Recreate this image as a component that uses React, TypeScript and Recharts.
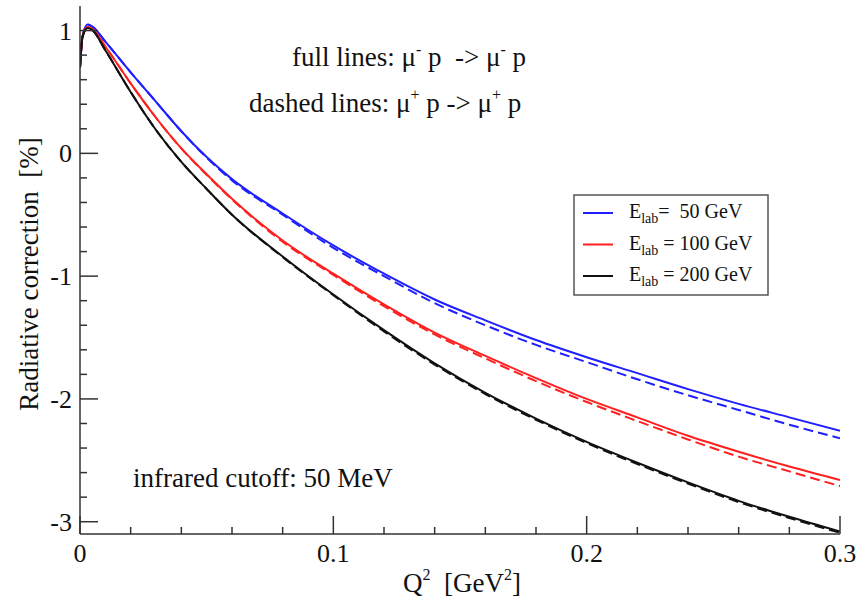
import { Customized, Line, LineChart, XAxis, YAxis } from 'recharts'

// Q^2 sample points [GeV^2]
const q2 = [0, 0.001, 0.003, 0.005, 0.01, 0.02, 0.03, 0.04, 0.05, 0.06, 0.08, 0.1, 0.12, 0.14, 0.16, 0.18, 0.2, 0.22, 0.24, 0.26, 0.28, 0.3]

// radiative correction [%], full = mu- p, dashed = mu+ p
const e50Full = [0.7, 0.95, 1.05, 1.03, 0.91, 0.66, 0.42, 0.18, -0.03, -0.21, -0.49, -0.75, -0.98, -1.19, -1.36, -1.52, -1.66, -1.79, -1.92, -2.04, -2.15, -2.26]
const e50Dash = [0.7, 0.95, 1.05, 1.03, 0.91, 0.66, 0.42, 0.18, -0.035, -0.22, -0.5, -0.77, -1.0, -1.22, -1.4, -1.56, -1.7, -1.84, -1.97, -2.09, -2.21, -2.32]
const e100Full = [0.7, 0.95, 1.03, 1.01, 0.87, 0.57, 0.29, 0.04, -0.17, -0.37, -0.71, -0.98, -1.23, -1.46, -1.65, -1.83, -2.0, -2.15, -2.3, -2.43, -2.55, -2.66]
const e100Dash = [0.7, 0.95, 1.03, 1.01, 0.87, 0.57, 0.29, 0.04, -0.175, -0.375, -0.72, -0.99, -1.245, -1.475, -1.67, -1.855, -2.025, -2.18, -2.33, -2.47, -2.59, -2.71]
const e200Full = [0.7, 0.95, 1.02, 1.0, 0.84, 0.5, 0.19, -0.07, -0.29, -0.5, -0.84, -1.15, -1.44, -1.71, -1.95, -2.16, -2.35, -2.52, -2.68, -2.83, -2.96, -3.08]
const e200Dash = [0.7, 0.95, 1.02, 1.0, 0.84, 0.5, 0.19, -0.07, -0.29, -0.5, -0.845, -1.155, -1.45, -1.72, -1.96, -2.17, -2.36, -2.53, -2.69, -2.84, -2.97, -3.09]

const xTicks = [0, 0.02, 0.04, 0.06, 0.08, 0.1, 0.12, 0.14, 0.16, 0.18, 0.2, 0.22, 0.24, 0.26, 0.28, 0.3]
const xMajor = [0, 0.1, 0.2, 0.3]
const yTicks = [-3, -2.8, -2.6, -2.4, -2.2, -2, -1.8, -1.6, -1.4, -1.2, -1, -0.8, -0.6, -0.4, -0.2, 0, 0.2, 0.4, 0.6, 0.8, 1]
const yMajor = [-3, -2, -1, 0, 1]

const legendRows = [
  { energy: '=  50 GeV', color: '#1f1fff' },
  { energy: ' = 100 GeV', color: '#ff1f1f' },
  { energy: ' = 200 GeV', color: '#111111' },
]

const data = q2.map((q, i) => ({
  q,
  e50: e50Full[i],
  e50d: e50Dash[i],
  e100: e100Full[i],
  e100d: e100Dash[i],
  e200: e200Full[i],
  e200d: e200Dash[i],
}))

const FONT = '"Liberation Serif", "Times New Roman", serif'
const INK = '#333'
const MAJOR = 18
const MINOR = 7

const isMajor = (v: number, majors: number[]) => majors.some((m) => Math.abs(m - v) < 1e-6)

function BottomTick({ x, y, payload }: any) {
  const major = isMajor(payload.value, xMajor)
  return (
    <g>
      <line x1={x} y1={y} x2={x} y2={y - (major ? MAJOR : MINOR)} stroke={INK} strokeWidth={1.5} />
      {major && (
        <text x={x} y={y + 28} textAnchor="middle" fontFamily={FONT} fontSize={26} fill="#111">
          {String(payload.value)}
        </text>
      )}
    </g>
  )
}

function TopTick({ x, y, payload }: any) {
  const major = isMajor(payload.value, xMajor)
  return <line x1={x} y1={y} x2={x} y2={y + (major ? MAJOR : MINOR)} stroke={INK} strokeWidth={1.5} />
}

function LeftTick({ x, y, payload }: any) {
  const major = isMajor(payload.value, yMajor)
  return (
    <g>
      <line x1={x} y1={y} x2={x + (major ? MAJOR : MINOR)} y2={y} stroke={INK} strokeWidth={1.5} />
      {major && (
        <text x={x - 8} y={y + 9} textAnchor="end" fontFamily={FONT} fontSize={26} fill="#111">
          {String(payload.value)}
        </text>
      )}
    </g>
  )
}

function RightTick({ x, y, payload }: any) {
  const major = isMajor(payload.value, yMajor)
  return <line x1={x} y1={y} x2={x - (major ? MAJOR : MINOR)} y2={y} stroke={INK} strokeWidth={1.5} />
}

function Overlay() {
  const pre = { whiteSpace: 'pre' as const }
  return (
    <g fontFamily={FONT} fill="#111">
      <text x={292} y={66} fontSize={27} style={pre}>
        <tspan>full lines: μ</tspan>
        <tspan dy={-11} fontSize={16}>-</tspan>
        <tspan dy={11}>{' p  -> μ'}</tspan>
        <tspan dy={-11} fontSize={16}>-</tspan>
        <tspan dy={11}> p</tspan>
      </text>
      <text x={249} y={112} fontSize={27} style={pre}>
        <tspan>dashed lines: μ</tspan>
        <tspan dy={-12} fontSize={16}>+</tspan>
        <tspan dy={12}>{' p -> μ'}</tspan>
        <tspan dy={-12} fontSize={16}>+</tspan>
        <tspan dy={12}> p</tspan>
      </text>
      <text x={133} y={487} fontSize={27} style={pre}>
        infrared cutoff: 50 MeV
      </text>
      <text x={462} y={592} fontSize={27} textAnchor="middle" style={pre}>
        <tspan>Q</tspan>
        <tspan dy={-12} fontSize={16}>2</tspan>
        <tspan dy={12}>{'  [GeV'}</tspan>
        <tspan dy={-12} fontSize={16}>2</tspan>
        <tspan dy={12}>]</tspan>
      </text>
      <text x={38} y={274} fontSize={27} textAnchor="middle" transform="rotate(-90 38 274)" style={pre}>
        Radiative correction  [%]
      </text>
      <rect x={574} y={195} width={194} height={100} fill="#fff" stroke="#555" strokeWidth={1.5} />
      {legendRows.map((r, i) => {
        const y = 213 + i * 31.5
        return (
          <g key={r.energy}>
            <line x1={583} y1={y} x2={613} y2={y} stroke={r.color} strokeWidth={2} />
            <text x={629} y={y + 5} fontSize={20} style={pre}>
              <tspan>E</tspan>
              <tspan dy={5} fontSize={14}>lab</tspan>
              <tspan dy={-5}>{r.energy}</tspan>
            </text>
          </g>
        )
      })}
    </g>
  )
}

export default function App() {
  return (
    <div style={{ position: 'absolute', left: 0, top: 0, width: 862, height: 609, background: '#fff' }}>
      <LineChart width={862} height={609} data={data} margin={{ top: 6, right: 22, bottom: 0, left: 0 }}>
        <XAxis
          dataKey="q"
          type="number"
          domain={[0, 0.3]}
          ticks={xTicks}
          interval={0}
          height={75}
          tickSize={0}
          tickMargin={0}
          tickLine={false}
          axisLine={{ stroke: INK, strokeWidth: 1.5 }}
          tick={<BottomTick />}
          allowDataOverflow
        />
        <XAxis
          xAxisId="top"
          orientation="top"
          type="number"
          domain={[0, 0.3]}
          ticks={xTicks}
          interval={0}
          height={0}
          tickSize={0}
          tickMargin={0}
          tickLine={false}
          axisLine={{ stroke: INK, strokeWidth: 1.5 }}
          tick={<TopTick />}
          allowDataOverflow
        />
        <YAxis
          type="number"
          domain={[-3.1, 1.2]}
          ticks={yTicks}
          interval={0}
          width={80}
          tickSize={0}
          tickMargin={0}
          tickLine={false}
          axisLine={{ stroke: INK, strokeWidth: 1.5 }}
          tick={<LeftTick />}
          allowDataOverflow
        />
        <YAxis
          yAxisId="right"
          orientation="right"
          type="number"
          domain={[-3.1, 1.2]}
          ticks={yTicks}
          interval={0}
          width={0}
          tickSize={0}
          tickMargin={0}
          tickLine={false}
          axisLine={{ stroke: INK, strokeWidth: 1.5 }}
          tick={<RightTick />}
          allowDataOverflow
        />
        <Line type="monotone" dataKey="e50" stroke="#1f1fff" strokeWidth={2} dot={false} isAnimationActive={false} />
        <Line type="monotone" dataKey="e50d" stroke="#1f1fff" strokeWidth={2} strokeDasharray="10 5" dot={false} isAnimationActive={false} />
        <Line type="monotone" dataKey="e100" stroke="#ff1f1f" strokeWidth={2} dot={false} isAnimationActive={false} />
        <Line type="monotone" dataKey="e100d" stroke="#ff1f1f" strokeWidth={2} strokeDasharray="10 5" dot={false} isAnimationActive={false} />
        <Line type="monotone" dataKey="e200" stroke="#111" strokeWidth={2} dot={false} isAnimationActive={false} />
        <Line type="monotone" dataKey="e200d" stroke="#111" strokeWidth={2} strokeDasharray="10 5" dot={false} isAnimationActive={false} />
        <Customized component={Overlay} />
      </LineChart>
    </div>
  )
}
